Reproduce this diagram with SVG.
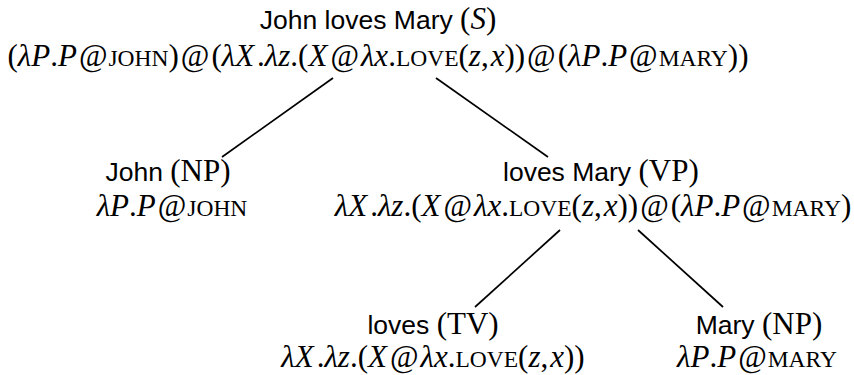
<svg xmlns="http://www.w3.org/2000/svg" width="854" height="375" viewBox="0 0 854 375">
<style>
.s { font-family: "Liberation Sans", Arial, sans-serif; font-size: 26.5px; fill: #000; }
.m { font-family: "Liberation Serif", "Times New Roman", serif; font-size: 31px; fill: #000; }
.i { font-style: italic; }
.sc { font-size: 23.5px; }
.edge { stroke: #000; stroke-width: 1.7; fill: none; stroke-linecap: butt; }
</style>
<rect width="854" height="375" fill="#fff"/>
<g id="connectors">
  <line class="edge" x1="333" y1="78" x2="222" y2="157"/>
  <line class="edge" x1="436" y1="78" x2="548" y2="157"/>
  <line class="edge" x1="560" y1="230" x2="475" y2="307"/>
  <line class="edge" x1="638" y1="230" x2="723" y2="307"/>
</g>
<g id="node-S">
  <text x="378" y="29" text-anchor="middle"><tspan class="s">John loves Mary </tspan><tspan class="m">(<tspan class="i">S</tspan>)</tspan></text>
  <text class="m" x="378" y="66" text-anchor="middle">(<tspan class="i">λP</tspan>.<tspan class="i">P</tspan><tspan dx="2">@</tspan><tspan class="sc" dx="1">JOHN</tspan>)<tspan dx="2">@</tspan><tspan dx="2">(</tspan><tspan class="i">λX</tspan><tspan dx="3">.</tspan><tspan class="i">λz</tspan>.(<tspan class="i">X</tspan><tspan dx="3">@</tspan><tspan class="i" dx="2">λx</tspan>.<tspan class="sc">LOVE</tspan>(<tspan class="i">z</tspan>,<tspan class="i" dx="2">x</tspan>))<tspan dx="2">@</tspan><tspan dx="2">(</tspan><tspan class="i">λP</tspan>.<tspan class="i">P</tspan><tspan dx="2">@</tspan><tspan class="sc" dx="1">MARY</tspan>))</text>
</g>
<g id="node-NP-John">
  <text x="168" y="181" text-anchor="middle"><tspan class="s">John </tspan><tspan class="m">(NP)</tspan></text>
  <text class="m" x="172" y="216" text-anchor="middle"><tspan class="i">λP</tspan>.<tspan class="i">P</tspan><tspan dx="2">@</tspan><tspan class="sc" dx="1">JOHN</tspan></text>
</g>
<g id="node-VP">
  <text x="503" y="181"><tspan class="s">loves Mary </tspan><tspan class="m">(VP)</tspan></text>
  <text class="m" x="593" y="216" text-anchor="middle"><tspan class="i">λX</tspan><tspan dx="3">.</tspan><tspan class="i">λz</tspan>.(<tspan class="i">X</tspan><tspan dx="3">@</tspan><tspan class="i" dx="2">λx</tspan>.<tspan class="sc">LOVE</tspan>(<tspan class="i">z</tspan>,<tspan class="i" dx="2">x</tspan>))<tspan dx="2">@</tspan><tspan dx="2">(</tspan><tspan class="i">λP</tspan>.<tspan class="i">P</tspan><tspan dx="2">@</tspan><tspan class="sc" dx="1">MARY</tspan>)</text>
</g>
<g id="node-TV">
  <text x="433" y="334" text-anchor="middle"><tspan class="s">loves </tspan><tspan class="m">(TV)</tspan></text>
  <text class="m" x="433" y="367" text-anchor="middle"><tspan class="i">λX</tspan><tspan dx="3">.</tspan><tspan class="i">λz</tspan>.(<tspan class="i">X</tspan><tspan dx="3">@</tspan><tspan class="i" dx="2">λx</tspan>.<tspan class="sc">LOVE</tspan>(<tspan class="i">z</tspan>,<tspan class="i" dx="2">x</tspan>))</text>
</g>
<g id="node-NP-Mary">
  <text x="759" y="334" text-anchor="middle"><tspan class="s">Mary </tspan><tspan class="m">(NP)</tspan></text>
  <text class="m" x="757" y="367" text-anchor="middle"><tspan class="i">λP</tspan>.<tspan class="i">P</tspan><tspan dx="2">@</tspan><tspan class="sc" dx="1">MARY</tspan></text>
</g>
</svg>
